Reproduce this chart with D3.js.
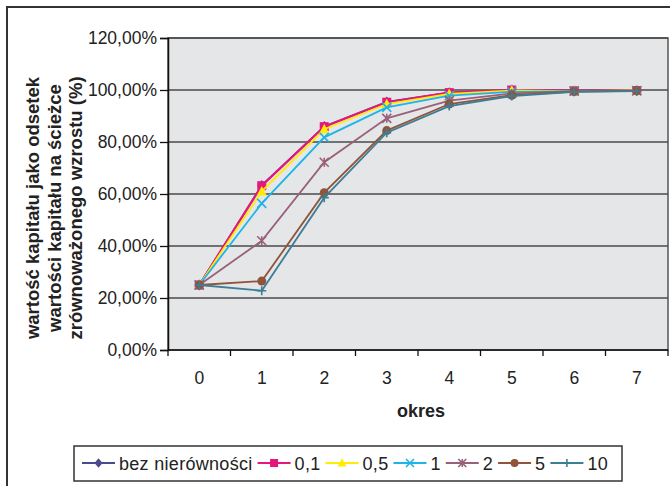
<!DOCTYPE html>
<html>
<head>
<meta charset="utf-8">
<script src="https://cdn.jsdelivr.net/npm/d3@7"></script>
<style>
  html, body { margin: 0; padding: 0; background: #fff; }
  svg { display: block; font-family: "Liberation Sans", Arial, sans-serif; }
</style>
</head>
<body>
<svg id="chart" width="670" height="486"></svg>
<script>
// Periods on the horizontal axis
const periods = ["0", "1", "2", "3", "4", "5", "6", "7"];

// Capital as a share of capital on the balanced growth path, per inequality level
const bezNierownosci = [0.25, 0.633, 0.860, 0.954, 0.990, 1.000, 0.997, 0.998];
const s01  = [0.25, 0.632, 0.859, 0.953, 0.990, 1.000, 0.997, 0.998];
const s05  = [0.25, 0.610, 0.849, 0.946, 0.985, 0.998, 0.996, 0.998];
const s1   = [0.25, 0.564, 0.818, 0.933, 0.978, 0.993, 0.996, 0.997];
const s2   = [0.25, 0.420, 0.722, 0.891, 0.959, 0.987, 0.996, 0.997];
const s5   = [0.25, 0.265, 0.605, 0.844, 0.946, 0.980, 0.994, 0.997];
const s10  = [0.25, 0.228, 0.586, 0.836, 0.938, 0.977, 0.993, 0.996];

const seriesNames = ["bez nierówności", "0,1", "0,5", "1", "2", "5", "10"];
const seriesValues = [bezNierownosci, s01, s05, s1, s2, s5, s10];
const seriesColors = ["#4b4a8c", "#e5177e", "#ffec00", "#1eb4e8", "#996079", "#8f553b", "#3d7d96"];
const seriesMarkers = ["diamond", "square", "triangle", "cross", "star", "circle", "plus"];

const yTicks = [0, 0.2, 0.4, 0.6, 0.8, 1.0, 1.2];
const yLabelLines = ["wartość kapitału jako odsetek", "wartości kapitału na ścieżce", "zrównoważonego wzrostu (%)"];
const xTitle = "okres";

const series = seriesNames.map((name, i) => ({
  name, color: seriesColors[i], marker: seriesMarkers[i],
  values: seriesValues[i].map((v, j) => ({ period: periods[j], value: v }))
}));

const svg = d3.select("#chart");
const plot = { left: 168, right: 668, top: 38, bottom: 350 };

const pl = d3.formatLocale({ decimal: ",", thousands: " ", grouping: [3], currency: ["", " zł"] });
const pct = pl.format(".2%");

const x = d3.scaleBand().domain(periods).range([plot.left, plot.right]);
const y = d3.scaleLinear().domain([0, 1.2]).range([plot.bottom, plot.top]);
const cx = d => x(d) + x.bandwidth() / 2;

// Outer frame
svg.append("rect").attr("x", 7).attr("y", 7).attr("width", 700).attr("height", 500)
  .attr("fill", "none").attr("stroke", "#333").attr("stroke-width", 2);

// Plot background
svg.append("rect").attr("x", plot.left).attr("y", plot.top)
  .attr("width", plot.right - plot.left).attr("height", plot.bottom - plot.top)
  .attr("fill", "#e5e6e8").attr("stroke", "#555").attr("stroke-width", 1.5);

// Horizontal gridlines
svg.append("g").selectAll("line").data(yTicks.filter(t => t > 0)).join("line")
  .attr("x1", plot.left).attr("x2", plot.right)
  .attr("y1", d => y(d)).attr("y2", d => y(d))
  .attr("stroke", "#4a4a4a").attr("stroke-width", 1.5);

// Y axis
const yAxis = svg.append("g").attr("transform", `translate(${plot.left},0)`)
  .call(d3.axisLeft(y).tickValues(yTicks).tickFormat(pct).tickSize(8).tickPadding(3));
yAxis.select(".domain").attr("stroke", "#111").attr("stroke-width", 1.5);
yAxis.selectAll(".tick line").attr("stroke", "#111").attr("stroke-width", 1.3);
yAxis.selectAll(".tick text").attr("font-size", 17.5).attr("fill", "#222")
  .attr("font-family", "Liberation Sans, Arial, sans-serif");

// X axis: labels centred in each band, tick marks on band boundaries
const xAxis = svg.append("g").attr("transform", `translate(0,${plot.bottom})`)
  .call(d3.axisBottom(x).tickSize(0).tickPadding(22));
xAxis.select(".domain").remove();
xAxis.selectAll(".tick text").attr("font-size", 17.5).attr("fill", "#222")
  .attr("font-family", "Liberation Sans, Arial, sans-serif");
const boundaries = periods.map(p => x(p)).concat([plot.right]);
svg.append("g").selectAll("line").data(boundaries).join("line")
  .attr("x1", d => d).attr("x2", d => d)
  .attr("y1", plot.bottom).attr("y2", plot.bottom + 6)
  .attr("stroke", "#111").attr("stroke-width", 1.3);
svg.append("line").attr("x1", plot.left).attr("x2", plot.right)
  .attr("y1", plot.bottom).attr("y2", plot.bottom)
  .attr("stroke", "#111").attr("stroke-width", 1.5);

// Axis titles
svg.append("text").attr("x", 421).attr("y", 417).attr("text-anchor", "middle")
  .attr("font-size", 18).attr("font-weight", "bold").attr("fill", "#222").text(xTitle);

const yTitle = svg.append("text").attr("transform", "translate(0,208) rotate(-90)")
  .attr("text-anchor", "middle").attr("font-size", 18.5).attr("font-weight", "bold").attr("fill", "#222");
yLabelLines.forEach((line, i) => {
  yTitle.append("tspan").attr("x", 0).attr("y", 39 + i * 21.7).text(line);
});

// Marker shapes
function drawMarker(g, type, color, size) {
  const s = size;
  switch (type) {
    case "diamond":
      g.append("path").attr("d", `M0,${-s*0.6}L${s*0.5},0L0,${s*0.6}L${-s*0.5},0Z`).attr("fill", color);
      break;
    case "square":
      g.append("rect").attr("x", -s/2).attr("y", -s/2).attr("width", s).attr("height", s).attr("fill", color);
      break;
    case "triangle":
      g.append("path").attr("d", `M0,${-s*0.6}L${s*0.55},${s*0.45}L${-s*0.55},${s*0.45}Z`).attr("fill", color);
      break;
    case "cross":
      g.append("path").attr("d", `M${-s/2},${-s/2}L${s/2},${s/2}M${s/2},${-s/2}L${-s/2},${s/2}`)
        .attr("stroke", color).attr("stroke-width", 1.6).attr("fill", "none");
      break;
    case "star":
      g.append("path").attr("d", `M${-s/2},${-s/2}L${s/2},${s/2}M${s/2},${-s/2}L${-s/2},${s/2}M0,${-s/2}L0,${s/2}`)
        .attr("stroke", color).attr("stroke-width", 1.6).attr("fill", "none");
      break;
    case "circle":
      g.append("circle").attr("r", s/2).attr("fill", color);
      break;
    case "plus":
      g.append("path").attr("d", `M${-s/2},0L${s/2},0M0,${-s/2}L0,${s/2}`)
        .attr("stroke", color).attr("stroke-width", 1.6).attr("fill", "none");
      break;
  }
}

// Series lines and markers
const line = d3.line().x(d => cx(d.period)).y(d => y(d.value));
series.forEach(s => {
  const g = svg.append("g");
  g.append("path").datum(s.values).attr("d", line).attr("fill", "none")
    .attr("stroke", s.color).attr("stroke-width", s.marker === "square" ? 2.2 : 1.8);
  s.values.forEach(d => {
    const m = g.append("g").attr("transform", `translate(${cx(d.period)},${y(d.value)})`);
    drawMarker(m, s.marker, s.color, 9);
  });
});

// Legend
const legend = svg.append("g");
legend.append("rect").attr("x", 74).attr("y", 446).attr("width", 548).attr("height", 35)
  .attr("fill", "#fff").attr("stroke", "#333").attr("stroke-width", 1.5);
let lx = 82;
const ly = 463;
series.forEach(s => {
  const item = legend.append("g");
  item.append("line").attr("x1", lx).attr("x2", lx + 33).attr("y1", ly).attr("y2", ly)
    .attr("stroke", s.color).attr("stroke-width", 1.8);
  const m = item.append("g").attr("transform", `translate(${lx + 16.5},${ly})`);
  drawMarker(m, s.marker, s.color, 8);
  const t = item.append("text").attr("x", lx + 37).attr("y", ly + 6.5)
    .attr("font-size", 18).attr("letter-spacing", 0.3).attr("fill", "#222").text(s.name);
  lx += 37 + t.node().getComputedTextLength() + 5;
});
</script>
</body>
</html>
